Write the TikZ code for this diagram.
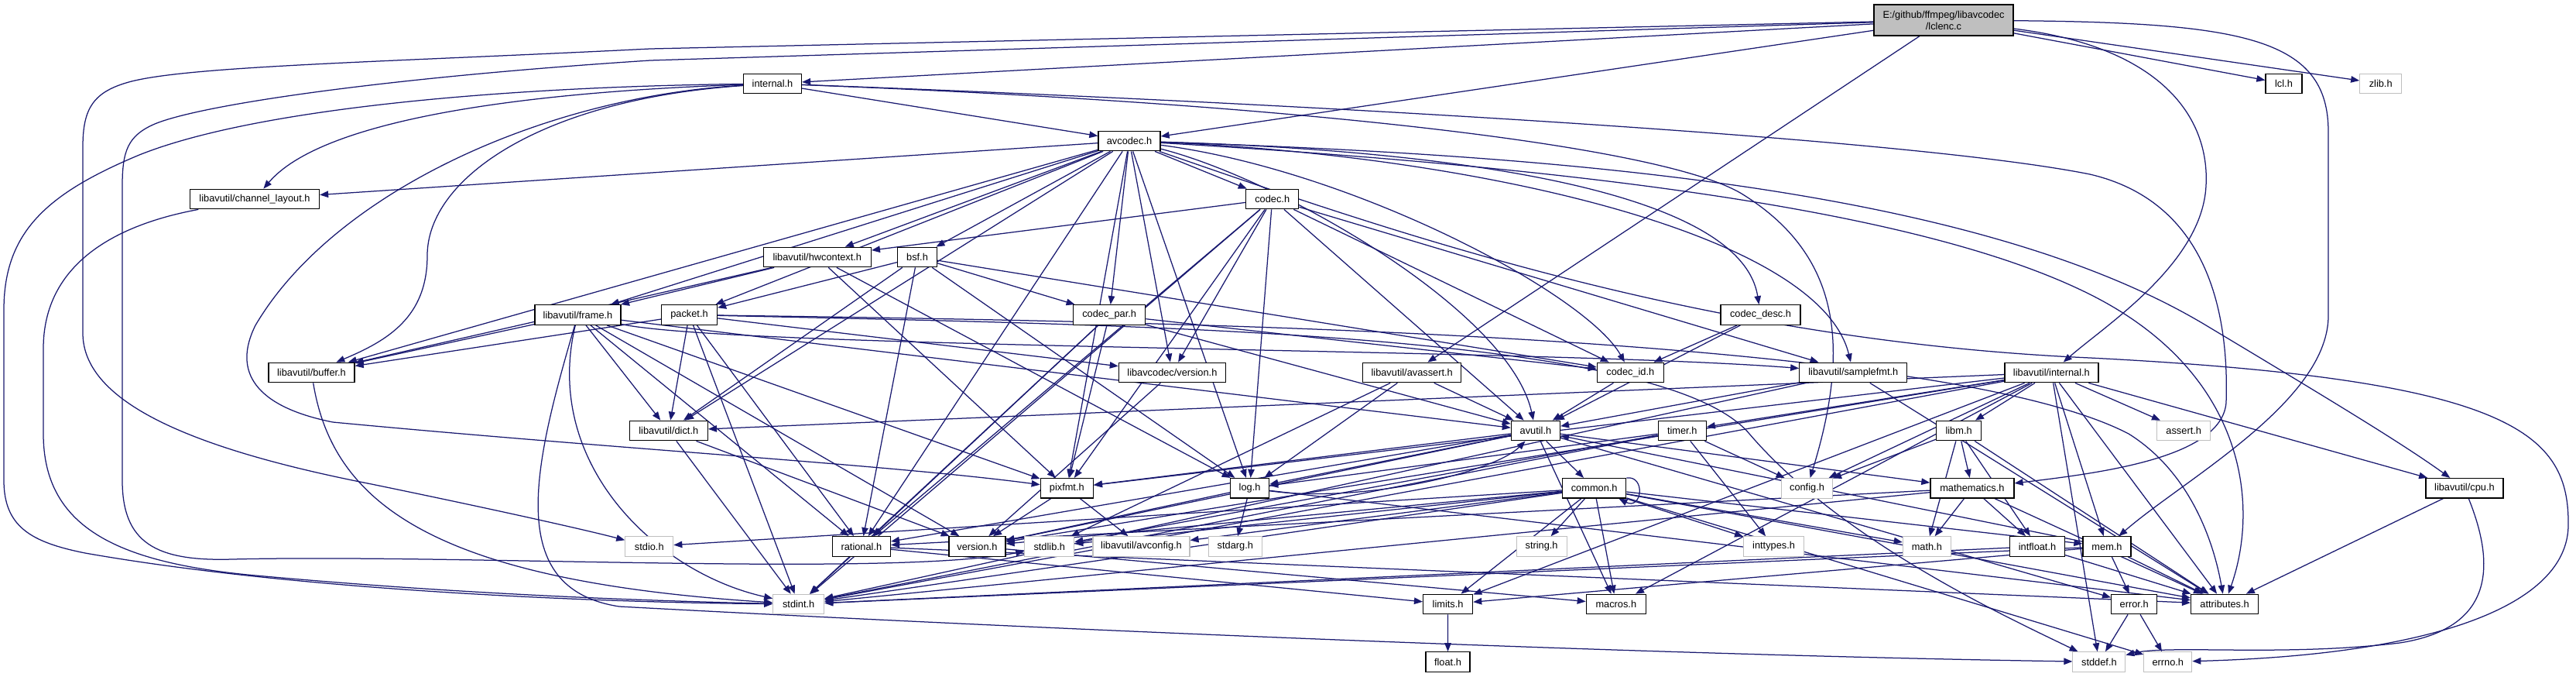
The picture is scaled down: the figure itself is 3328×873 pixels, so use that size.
\documentclass[tikz,border=0pt]{standalone}
\usepackage{fontspec}
\setmainfont{Liberation Sans}
\usetikzlibrary{arrows.meta,backgrounds}
\definecolor{edgec}{RGB}{25,25,112}
\definecolor{sysgray}{RGB}{191,191,191}
\definecolor{rootfill}{RGB}{191,191,191}
\newcommand\edgeS[2]{\draw[edge] (#1) -- (#2);}
\begin{document}
\begin{tikzpicture}[x=1pt,y=-1pt,
  box/.style={draw, line width=1.3pt, fill=white, minimum height=25.5pt, inner sep=0pt, font=\fontsize{12.8}{15}\selectfont},
  doc/.style={box, draw=black},
  sys/.style={box, draw=sysgray, line width=1.1pt},
  wd/.style={minimum width=#1pt},
  edge/.style={draw=edgec, line width=1.25pt, -{Triangle[length=11pt,width=8.5pt]}}]
\useasboundingbox (0,0) rectangle (3328,873);
% ---------------- nodes ----------------
\node[doc, fill=rootfill, wd=180, minimum height=40pt, align=center] (root) at (2511,26) {E:/github/ffmpeg/libavcodec\\/lclenc.c};
\node[doc, wd=75] (internal) at (998,108) {internal.h};
\node[doc, wd=47] (lcl) at (2950.5,108) {lcl.h};
\node[sys, wd=54] (zlib) at (3075.7,108) {zlib.h};
\node[doc, wd=80] (avcodec) at (1459,182) {avcodec.h};
\node[doc, wd=167] (chl) at (329,257) {libavutil/channel\_layout.h};
\node[doc, wd=68] (codec) at (1643.7,257) {codec.h};
\node[doc, wd=139] (hwc) at (1055.8,332) {libavutil/hwcontext.h};
\node[doc, wd=51] (bsf) at (1185,332) {bsf.h};
\node[doc, wd=111] (frame) at (746.5,406.5) {libavutil/frame.h};
\node[doc, wd=72] (packet) at (890.5,406.5) {packet.h};
\node[doc, wd=93] (cpar) at (1433.2,406.5) {codec\_par.h};
\node[doc, wd=103] (cdesc) at (2274.5,406.5) {codec\_desc.h};
\node[doc, wd=111] (buffer) at (402.5,481) {libavutil/buffer.h};
\node[doc, wd=138] (lavcver) at (1514.4,481) {libavcodec/version.h};
\node[doc, wd=127] (avassert) at (1824.2,481) {libavutil/avassert.h};
\node[doc, wd=86] (codecid) at (2106.3,481) {codec\_id.h};
\node[doc, wd=139] (samplefmt) at (2394.3,481) {libavutil/samplefmt.h};
\node[doc, wd=121] (lavuint) at (2650.4,481) {libavutil/internal.h};
\node[doc, wd=101] (dict) at (863.8,556) {libavutil/dict.h};
\node[doc, wd=63] (avutil) at (1983.9,556) {avutil.h};
\node[doc, wd=62] (timer) at (2173.2,556) {timer.h};
\node[doc, wd=58] (libm) at (2530.6,556) {libm.h};
\node[sys, wd=69] (assert) at (2821.2,556) {assert.h};
\node[doc, wd=68] (pixfmt) at (1378.3,630.3) {pixfmt.h};
\node[doc, wd=50] (log) at (1614.6,630.3) {log.h};
\node[doc, wd=82] (common) at (2059.7,630.3) {common.h};
\node[sys, wd=66] (config) at (2334.5,630.3) {config.h};
\node[doc, wd=108] (mathematics) at (2547.9,630.3) {mathematics.h};
\node[doc, wd=100] (cpu) at (3183.9,630.3) {libavutil/cpu.h};
\node[sys, wd=62] (stdio) at (838.8,705.5) {stdio.h};
\node[doc, wd=75] (rational) at (1112.9,705.5) {rational.h};
\node[doc, wd=73] (version) at (1262.4,705.5) {version.h};
\node[sys, wd=64] (stdlib) at (1355.8,705.5) {stdlib.h};
\node[sys, wd=125] (avconfig) at (1474.5,705.5) {libavutil/avconfig.h};
\node[sys, wd=69] (stdarg) at (1595.8,705.5) {stdarg.h};
\node[sys, wd=65] (string) at (1991.6,705.5) {string.h};
\node[sys, wd=78] (inttypes) at (2291.6,705.5) {inttypes.h};
\node[sys, wd=62] (math) at (2489.3,705.5) {math.h};
\node[doc, wd=71] (intfloat) at (2632,705.5) {intfloat.h};
\node[doc, wd=62] (mem) at (2722,705.5) {mem.h};
\node[sys, wd=66] (stdint) at (1031.7,780) {stdint.h};
\node[doc, wd=64] (limits) at (1870.6,780) {limits.h};
\node[doc, wd=77] (macros) at (2087.8,780) {macros.h};
\node[doc, wd=59] (error) at (2757.2,780) {error.h};
\node[doc, wd=87] (attributes) at (2874.1,780) {attributes.h};
\node[doc, wd=57] (float) at (1870.5,854.5) {float.h};
\node[sys, wd=68] (stddef) at (2711.9,854.5) {stddef.h};
\node[sys, wd=62] (errno) at (2800.8,854.5) {errno.h};
% ---------------- edges ----------------
\begin{pgfonlayer}{background}
\fill[white] (0,0) rectangle (3328,873);
% root
\edgeS{root}{internal}
\edgeS{root}{avcodec}
\edgeS{root}{lcl}
\edgeS{root}{zlib}
\edgeS{root}{avassert}
\draw[edge] (root) .. controls (2790,60) and (2855,150) .. (2850,240) .. controls (2845,340) and (2720,420) .. (lavuint);
\draw[edge] (root) .. controls (2900,29) and (3008,50) .. (3008,170) -- (3008,410) .. controls (3005,520) and (2820,620) .. (mem);
\draw[edge] (root) -- (840,63) .. controls (500,80) and (250,85) .. (170,105) .. controls (120,118) and (107,140) .. (107,190) -- (107,430) .. controls (107,520) and (250,580) .. (480,625) .. controls (650,660) and (760,685) .. (stdio);
\draw[edge] (root) -- (840,78) .. controls (500,100) and (260,135) .. (200,160) .. controls (165,175) and (158,195) .. (158,240) -- (158,620) .. controls (158,700) and (200,725) .. (300,722) .. controls (600,715) and (1150,745) .. (stdlib);
% internal.h
\edgeS{internal}{avcodec}
\draw[edge] (internal) .. controls (700,118) and (420,150) .. (chl);
\draw[edge] (internal) .. controls (700,128) and (552,230) .. (552,330) .. controls (552,410) and (500,440) .. (buffer);
\draw[edge] (internal) .. controls (650,112) and (330,140) .. (180,200) .. controls (60,250) and (5,300) .. (5,400) -- (5,620) .. controls (5,680) and (40,700) .. (110,714) .. controls (400,765) and (800,778) .. (stdint);
\draw[edge] (internal) .. controls (700,125) and (430,250) .. (330,420) .. controls (300,480) and (330,525) .. (430,545) .. controls (800,580) and (1150,600) .. (pixfmt);
\draw[edge] (internal) .. controls (1600,130) and (2450,175) .. (2700,225) .. controls (2850,260) and (2880,400) .. (2876,520) .. controls (2870,590) and (2720,610) .. (mathematics);
\draw[edge] (internal) .. controls (1700,135) and (2150,190) .. (2250,250) .. controls (2380,330) and (2390,450) .. (config);
% avcodec.h
\draw[edge] (avcodec) .. controls (1900,200) and (2350,300) .. (samplefmt);
\draw[edge] (avcodec) .. controls (2100,220) and (2500,280) .. (2700,380) .. controls (2900,480) and (2920,650) .. (attributes);
\draw[edge] (avcodec) .. controls (1650,230) and (1950,400) .. (avutil);
\edgeS{avcodec}{buffer}
\draw[edge] (avcodec) .. controls (2000,200) and (2550,240) .. (2850,420) .. controls (3000,510) and (3100,570) .. (cpu);
\edgeS{avcodec}{chl}
\edgeS{avcodec}{dict}
\edgeS{avcodec}{frame}
\edgeS{avcodec}{hwc}
\edgeS{avcodec}{log}
\edgeS{avcodec}{pixfmt}
\edgeS{avcodec}{rational}
\edgeS{avcodec}{bsf}
\edgeS{avcodec}{codec}
\draw[edge] (avcodec) .. controls (1900,195) and (2250,250) .. (cdesc);
\edgeS{avcodec}{cpar}
\draw[edge] (avcodec) .. controls (1750,220) and (2050,380) .. (codecid);
\edgeS{avcodec}{packet}
\edgeS{avcodec}{lavcver}
\draw[edge] (avcodec) .. controls (1800,300) and (2200,440) .. (2700,462) .. controls (3250,490) and (3320,560) .. (3318,680) .. controls (3315,780) and (3150,845) .. (errno);
% channel_layout
\draw[edge] (chl) .. controls (150,290) and (56,340) .. (56,450) -- (56,560) .. controls (56,680) and (150,725) .. (320,742) .. controls (600,768) and (850,776) .. (stdint);
% codec.h
\edgeS{codec}{stdint}
\edgeS{codec}{avutil}
\edgeS{codec}{hwc}
\edgeS{codec}{log}
\edgeS{codec}{pixfmt}
\edgeS{codec}{rational}
\edgeS{codec}{samplefmt}
\edgeS{codec}{codecid}
\edgeS{codec}{lavcver}
% hwcontext
\edgeS{hwc}{buffer}
\edgeS{hwc}{frame}
\edgeS{hwc}{log}
\edgeS{hwc}{pixfmt}
% bsf
\edgeS{bsf}{dict}
\edgeS{bsf}{log}
\edgeS{bsf}{rational}
\edgeS{bsf}{codecid}
\edgeS{bsf}{cpar}
\edgeS{bsf}{packet}
% frame
\draw[edge] (frame) .. controls (690,600) and (650,760) .. (800,783) .. controls (1300,810) and (2100,845) .. (stddef);
\draw[edge] (frame) .. controls (700,600) and (850,740) .. (stdint);
\edgeS{frame}{avutil}
\edgeS{frame}{buffer}
\edgeS{frame}{dict}
\edgeS{frame}{rational}
\draw[edge] (frame) .. controls (950,450) and (2000,450) .. (samplefmt);
\edgeS{frame}{pixfmt}
\edgeS{frame}{version}
% packet
\draw[edge] (packet) .. controls (1500,420) and (2150,430) .. (2260,560) .. controls (2380,700) and (2600,800) .. (stddef);
\edgeS{packet}{stdint}
\draw[edge] (packet) .. controls (1500,415) and (2500,430) .. (2750,560) .. controls (2830,610) and (2860,700) .. (attributes);
\edgeS{packet}{buffer}
\edgeS{packet}{dict}
\edgeS{packet}{rational}
\edgeS{packet}{lavcver}
% codec_par
\edgeS{cpar}{stdint}
\edgeS{cpar}{avutil}
\edgeS{cpar}{rational}
\edgeS{cpar}{pixfmt}
\edgeS{cpar}{codecid}
% codec_desc
\edgeS{cdesc}{avutil}
\edgeS{cdesc}{codecid}
% buffer
\draw[edge] (buffer) .. controls (430,650) and (560,750) .. (stdint);
% libavcodec/version
\edgeS{lavcver}{version}
% avassert
\edgeS{avassert}{stdlib}
\edgeS{avassert}{avutil}
\edgeS{avassert}{log}
% codec_id
\edgeS{codecid}{avutil}
% samplefmt
\edgeS{samplefmt}{stdint}
\edgeS{samplefmt}{avutil}
\edgeS{samplefmt}{attributes}
% libavutil/internal.h
\edgeS{lavuint}{limits}
\edgeS{lavuint}{stdint}
\edgeS{lavuint}{stddef}
\edgeS{lavuint}{assert}
\edgeS{lavuint}{config}
\edgeS{lavuint}{attributes}
\edgeS{lavuint}{timer}
\edgeS{lavuint}{cpu}
\edgeS{lavuint}{dict}
\edgeS{lavuint}{macros}
\edgeS{lavuint}{mem}
\edgeS{lavuint}{pixfmt}
\edgeS{lavuint}{version}
\edgeS{lavuint}{libm}
% dict
\edgeS{dict}{stdint}
\edgeS{dict}{version}
% avutil
\edgeS{avutil}{common}
\edgeS{avutil}{error}
\edgeS{avutil}{rational}
\edgeS{avutil}{version}
\edgeS{avutil}{macros}
\edgeS{avutil}{mathematics}
\edgeS{avutil}{log}
\edgeS{avutil}{pixfmt}
% timer
\edgeS{timer}{config}
\edgeS{timer}{stdlib}
\edgeS{timer}{stdint}
\edgeS{timer}{inttypes}
\edgeS{timer}{log}
% libm
\edgeS{libm}{math}
\edgeS{libm}{config}
\edgeS{libm}{attributes}
\edgeS{libm}{intfloat}
\edgeS{libm}{mathematics}
% pixfmt
\edgeS{pixfmt}{avconfig}
\edgeS{pixfmt}{version}
% log
\edgeS{log}{stdarg}
\draw[edge] (log) .. controls (1760,650) and (1930,610) .. (avutil);
\edgeS{log}{attributes}
\edgeS{log}{version}
% common
\edgeS{common}{errno}
\edgeS{common}{inttypes}
\edgeS{common}{limits}
\edgeS{common}{math}
\edgeS{common}{stdint}
\edgeS{common}{stdio}
\edgeS{common}{stdlib}
\edgeS{common}{string}
\edgeS{common}{attributes}
\edgeS{common}{macros}
\edgeS{common}{version}
\edgeS{common}{avconfig}
\edgeS{common}{mem}
\draw[edge] (common.north east) .. controls +(25,-3) and +(30,15) .. ([xshift=-10pt]common.south east);
% mathematics
\edgeS{mathematics}{stdint}
\edgeS{mathematics}{math}
\edgeS{mathematics}{attributes}
\edgeS{mathematics}{rational}
\edgeS{mathematics}{intfloat}
% cpu
\draw[edge] (cpu) .. controls (3220,720) and (3230,810) .. (3100,830) .. controls (2950,848) and (2800,832) .. (stddef);
\edgeS{cpu}{attributes}
% rational
\edgeS{rational}{stdint}
\edgeS{rational}{limits}
\edgeS{rational}{attributes}
% version
\edgeS{version}{macros}
% intfloat
\edgeS{intfloat}{stdint}
\edgeS{intfloat}{attributes}
% mem
\edgeS{mem}{limits}
\edgeS{mem}{stdint}
\edgeS{mem}{attributes}
\edgeS{mem}{error}
\edgeS{mem}{avutil}
% limits, error
\edgeS{limits}{float}
\edgeS{error}{errno}
\edgeS{error}{stddef}
\end{pgfonlayer}
\end{tikzpicture}
\end{document}
